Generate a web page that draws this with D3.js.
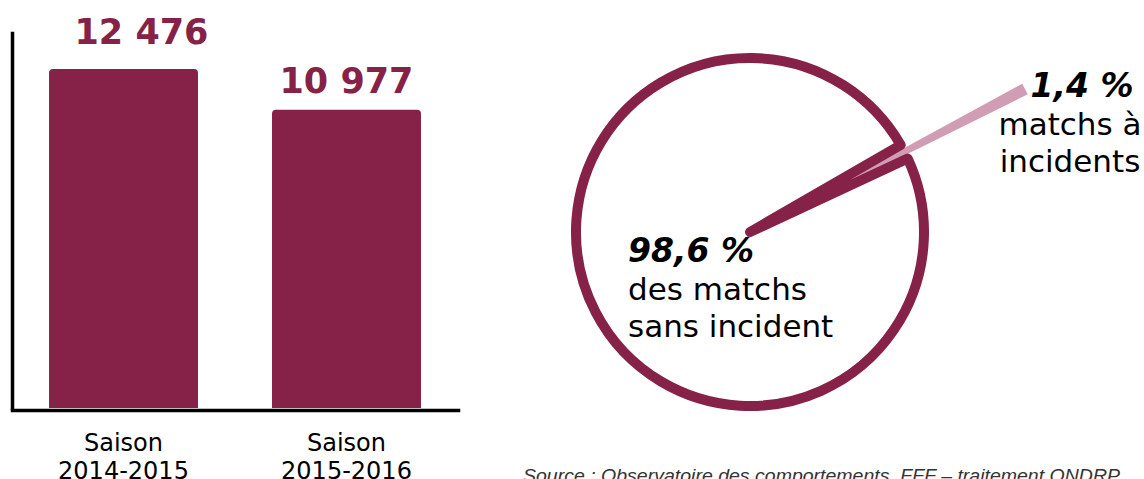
<!DOCTYPE html>
<html>
<head>
<meta charset="utf-8">
<script src="https://cdn.jsdelivr.net/npm/d3@7"></script>
<style>
  body { margin: 0; background: #fff; }
  svg { display: block; font-family: "DejaVu Sans", Verdana, sans-serif; }
</style>
</head>
<body>
<div id="chart"></div>
<script>
// data
const seasons = ["Saison 2014-2015", "Saison 2015-2016"];
const matchCounts = [12476, 10977];
const shareLabels = ["1,4 %", "98,6 %"];
const shareValues = [1.4, 98.6];
const shareCaptions = [["matchs à", "incidents"], ["des matchs", "sans incident"]];
const sourceText = "Source : Observatoire des comportements, FFF – traitement ONDRP";

const width = 1144;
const height = 479;
const maroon = "#862247";
const pink = "#d09db4";

const svg = d3.select("#chart")
  .append("svg")
  .attr("width", width)
  .attr("height", height);

// ---- bar chart ----
const x = d3.scaleBand()
  .domain(seasons)
  .range([12, 458])
  .paddingInner(0.332)
  .paddingOuter(0.166);

const y = d3.scaleLinear()
  .domain([0, 13800])
  .range([408, 33]);

const fmt = (v) => d3.format(",")(v).replace(",", " ");

function topRounded(x0, y0, w, h, r) {
  return "M" + x0 + "," + (y0 + h) +
    "V" + (y0 + r) +
    "Q" + x0 + "," + y0 + " " + (x0 + r) + "," + y0 +
    "H" + (x0 + w - r) +
    "Q" + (x0 + w) + "," + y0 + " " + (x0 + w) + "," + (y0 + r) +
    "V" + (y0 + h) + "Z";
}

svg.selectAll(".bar")
  .data(matchCounts)
  .enter()
  .append("path")
  .attr("class", "bar")
  .attr("fill", maroon)
  .attr("d", (d, i) => topRounded(x(seasons[i]), y(d), x.bandwidth(), y(0) - y(d), 4));

// value labels (hand nudged like the original)
const labelDx = [18, 0];
const labelDy = [-25, -17];
svg.selectAll(".val")
  .data(matchCounts)
  .enter()
  .append("text")
  .attr("class", "val")
  .attr("x", (d, i) => x(seasons[i]) + x.bandwidth() / 2 + labelDx[i])
  .attr("y", (d, i) => y(d) + labelDy[i])
  .attr("text-anchor", "middle")
  .attr("fill", maroon)
  .style("font-weight", "bold")
  .style("font-size", "35px")
  .text((d) => fmt(d));

// axes
const yAxis = svg.append("g")
  .attr("transform", "translate(12,0)")
  .call(d3.axisLeft(y).tickValues([]).tickSizeOuter(0));
const xAxis = svg.append("g")
  .attr("transform", "translate(0,410)")
  .call(d3.axisBottom(x).tickSize(0).tickFormat(""));
svg.selectAll(".domain")
  .attr("stroke", "#000")
  .attr("stroke-width", 3.5)
  .attr("stroke-linecap", "square");

const cat = svg.selectAll(".cat")
  .data(seasons)
  .enter()
  .append("text")
  .attr("class", "cat")
  .attr("text-anchor", "middle")
  .attr("fill", "#000")
  .style("font-size", "24px");
cat.selectAll("tspan")
  .data((d) => d.split(" ").map((t) => ({ t: t, c: d })))
  .enter()
  .append("tspan")
  .attr("x", (d) => x(d.c) + x.bandwidth() / 2)
  .attr("y", (d, i) => 451 + i * 28)
  .text((d) => d.t);

// ---- pie ----
const cx = 750, cy = 232;
const pie = d3.pie()
  .sort(null)
  .value((d) => d)
  .startAngle(Math.PI / 3)
  .endAngle(Math.PI / 3 + 2 * Math.PI);
const slices = pie(shareValues);

const g = svg.append("g").attr("transform", "translate(" + cx + "," + cy + ")");

// small slice, drawn thin and pulled long
const small = slices[0];
const mid = (small.startAngle + small.endAngle) / 2;
const half = (small.endAngle - small.startAngle) * 0.22;
g.append("path")
  .attr("fill", pink)
  .attr("d", d3.arc().innerRadius(0).outerRadius(310)({ startAngle: mid - half, endAngle: mid + half }));

// big slice as an outlined wedge
g.append("path")
  .attr("fill", "#fff")
  .attr("stroke", maroon)
  .attr("stroke-width", 10)
  .attr("stroke-linejoin", "round")
  .attr("d", d3.arc().innerRadius(0).outerRadius(174)(slices[1]));

// big slice label
const big = svg.append("text")
  .attr("x", 628)
  .attr("y", 262)
  .attr("fill", "#000");
big.append("tspan")
  .style("font-weight", "bold")
  .style("font-style", "italic")
  .style("font-size", "33px")
  .text(shareLabels[1]);
shareCaptions[1].forEach((t, i) => {
  big.append("tspan")
    .attr("x", 628)
    .attr("y", 300 + i * 37)
    .style("font-size", "31px")
    .text(t);
});

// small slice label
const sm = svg.append("text")
  .attr("text-anchor", "middle")
  .attr("fill", "#000");
sm.append("tspan")
  .attr("x", 1082)
  .attr("y", 97)
  .style("font-weight", "bold")
  .style("font-style", "italic")
  .style("font-size", "33px")
  .text(shareLabels[0]);
shareCaptions[0].forEach((t, i) => {
  sm.append("tspan")
    .attr("x", 1070)
    .attr("y", 135 + i * 37)
    .style("font-size", "31px")
    .text(t);
});

// source
svg.append("text")
  .attr("x", 523)
  .attr("y", 482)
  .attr("fill", "#333")
  .attr("textLength", 597)
  .attr("lengthAdjust", "spacingAndGlyphs")
  .style("font-family", "'Liberation Sans', sans-serif")
  .style("font-style", "italic")
  .style("font-weight", "300")
  .style("font-size", "19px")
  .text(sourceText);
</script>
</body>
</html>
